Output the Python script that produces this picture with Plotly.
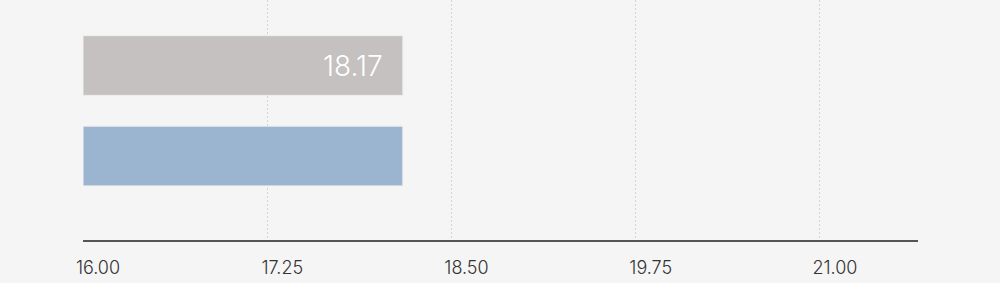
import plotly.graph_objects as go

categories = ["A", "B"]
values = [18.17, 18.17]
bar_colors = ["#c4c1c0", "#9bb4d0"]
labels = ["18.17", ""]
tick_vals = [16.00, 17.25, 18.50, 19.75, 21.00]
tick_text = ["16.00", "17.25", "18.50", "19.75", "21.00"]

fig = go.Figure()
fig.add_trace(go.Bar(
    y=categories, x=[v - 16 for v in values], base=16, orientation="h",
    marker=dict(color=bar_colors, line=dict(color="#eeeeee", width=1)),
    width=0.66, hoverinfo="skip",
))
for c, v, t in zip(categories, values, labels):
    if t:
        fig.add_annotation(x=v, y=c, text=t, showarrow=False, xanchor="right",
                           xshift=-18, font=dict(family="Inter", size=28, color="white", weight=300))

fig.update_layout(
    width=1000, height=283,
    margin=dict(l=83, r=82, t=0, b=43),
    paper_bgcolor="#f5f5f5", plot_bgcolor="#f5f5f5",
    showlegend=False,
    font=dict(family="Inter", color="#333333"),
)
fig.update_xaxes(
    range=[16, 21.665], tickvals=tick_vals, ticktext=tick_text,
    showgrid=True, gridcolor="#d4d4d4", griddash="2px,2px", gridwidth=1,
    showline=True, linecolor="#555555", linewidth=2,
    zeroline=False, ticks="", tickfont=dict(size=18, color="#333333", weight=300),
    ticklabelshift=15, ticklabelstandoff=10,
)
fig.update_yaxes(
    range=[1.928, -0.724], showticklabels=False, showgrid=False,
    zeroline=False, showline=False,
)
fig.write_html("out.html")
